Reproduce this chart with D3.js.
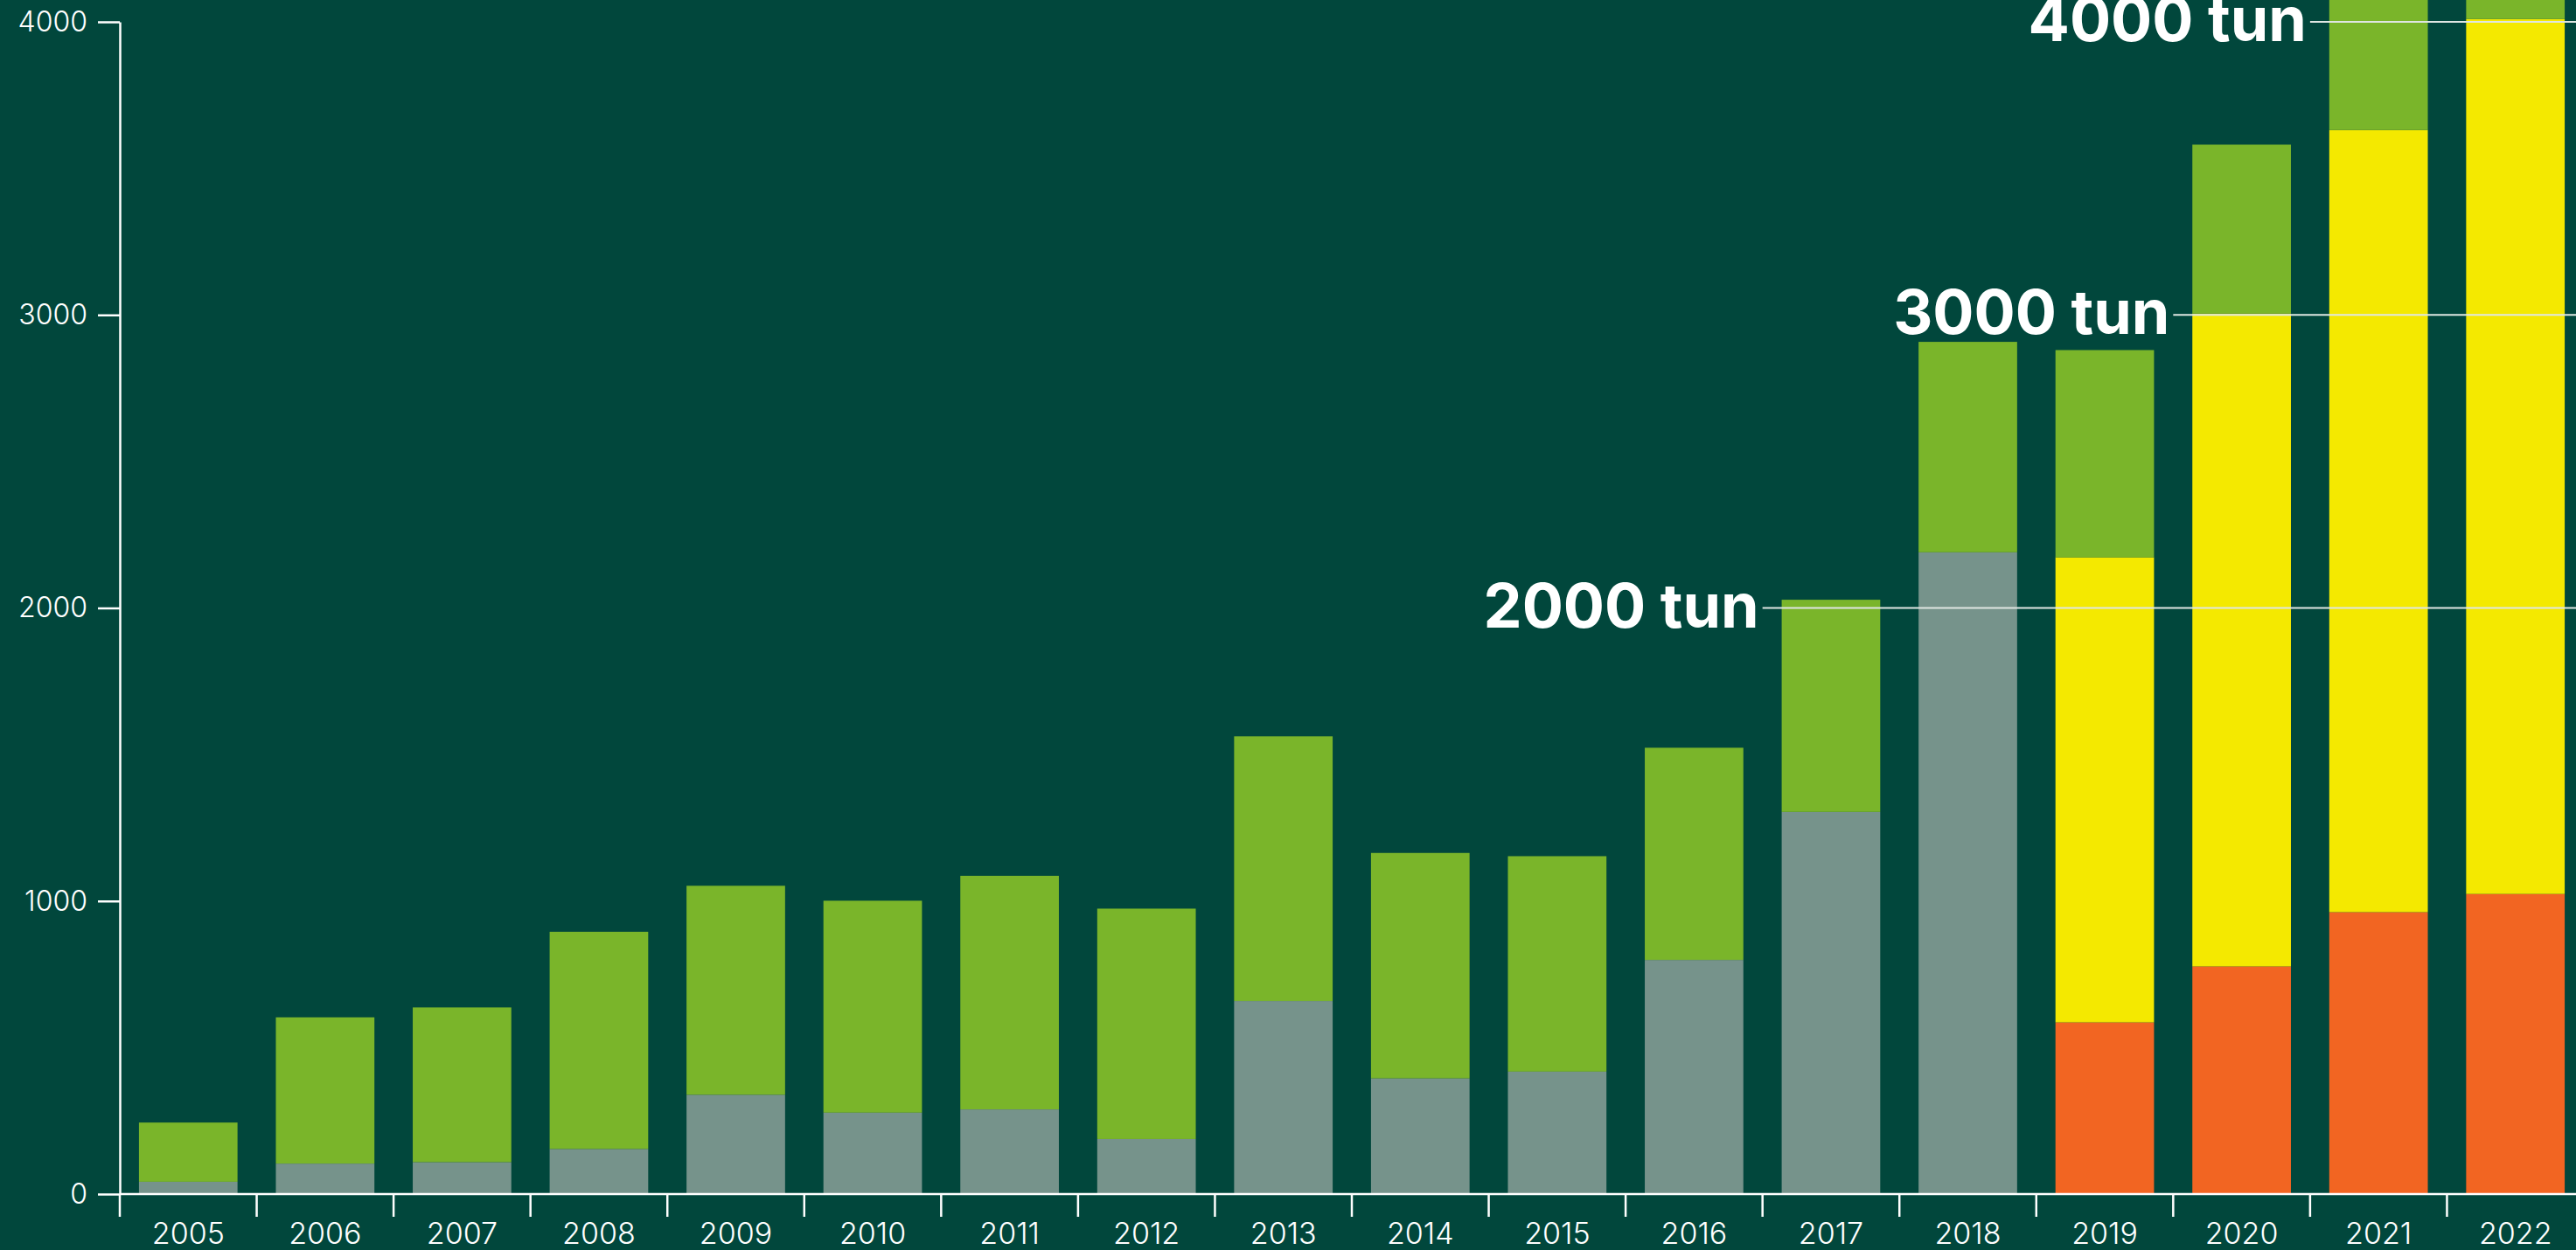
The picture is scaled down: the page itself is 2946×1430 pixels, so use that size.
<!DOCTYPE html>
<html>
<head>
<meta charset="utf-8">
<script src="https://cdn.jsdelivr.net/npm/d3@7"></script>
<style>
  html, body { margin: 0; padding: 0; background: #01473c; }
  svg { display: block; }
  .axis text { font-family: Inter, "Noto Sans", sans-serif; fill: #ffffff; }
  .axis line, .axis path { stroke: #ffffff; stroke-width: 2.5; }
  .note { font-family: Inter, "Noto Sans", sans-serif; font-weight: 700; fill: #ffffff; }
</style>
</head>
<body>
<div id="chart"></div>
<script>
  // years on the x axis
  var years = ["2005", "2006", "2007", "2008", "2009", "2010", "2011", "2012", "2013",
    "2014", "2015", "2016", "2017", "2018", "2019", "2020", "2021", "2022"];

  // stacked segments, bottom to top (tun)
  var greyVals   = [42, 104, 109, 154, 339, 278, 289, 188, 659, 395, 418, 799, 1304, 2190, 0, 0, 0, 0];
  var orangeVals = [0, 0, 0, 0, 0, 0, 0, 0, 0, 0, 0, 0, 0, 0, 586, 777, 962, 1024];
  var yellowVals = [0, 0, 0, 0, 0, 0, 0, 0, 0, 0, 0, 0, 0, 0, 1587, 2228, 2669, 2986];
  var greenVals  = [202, 499, 528, 741, 713, 723, 797, 786, 903, 769, 735, 724, 724, 718, 707, 576, 700, 700];

  var yTicks = [0, 1000, 2000, 3000, 4000];

  // reference lines: value, label, year where the line starts
  var notes = [
    { v: 2000, label: "2000 tun", from: "2017" },
    { v: 3000, label: "3000 tun", from: "2020" },
    { v: 4000, label: "4000 tun", from: "2021" }
  ];

  var keys = ["grey", "orange", "yellow", "green"];
  var colors = { grey: "#76938b", orange: "#f26522", yellow: "#f4e900", green: "#7ab52a" };

  var rows = years.map(function (y, i) {
    return { year: y, grey: greyVals[i], orange: orangeVals[i], yellow: yellowVals[i], green: greenVals[i] };
  });

  var width = 2946;
  var height = 1430;
  var plotLeft = 137;
  var plotRight = 2955;
  var plotTop = 25;
  var plotBottom = 1366;

  var svg = d3.select("#chart").append("svg")
    .attr("width", width)
    .attr("height", height);

  svg.append("rect").attr("width", width).attr("height", height).attr("fill", "#01473c");

  var x = d3.scaleBand()
    .domain(years)
    .range([plotLeft, plotRight])
    .paddingInner(0.28)
    .paddingOuter(0.14);

  var y = d3.scaleLinear()
    .domain([0, 4000])
    .range([plotBottom, plotTop]);

  var series = d3.stack().keys(keys)(rows);

  svg.append("g")
    .selectAll("g")
    .data(series)
    .enter()
    .append("g")
    .attr("fill", function (d) { return colors[d.key]; })
    .selectAll("rect")
    .data(function (d) { return d; })
    .enter()
    .append("rect")
    .attr("x", function (d) { return x(d.data.year); })
    .attr("y", function (d) { return y(d[1]); })
    .attr("width", x.bandwidth())
    .attr("height", function (d) { return Math.max(0, y(d[0]) - y(d[1])); });

  // y axis
  var yAxis = d3.axisLeft(y)
    .tickValues(yTicks)
    .tickFormat(d3.format("d"))
    .tickSize(25)
    .tickSizeOuter(0)
    .tickPadding(12);

  var gy = svg.append("g")
    .attr("class", "axis")
    .attr("transform", "translate(" + plotLeft + ",0)")
    .call(yAxis);
  gy.selectAll("text").style("font-size", "32px").style("font-weight", 300);

  // x axis: labels centred in bands, ticks on band edges
  var step = x.step();
  var xAxis = d3.axisBottom(x)
    .tickSize(0)
    .tickSizeOuter(0)
    .tickPadding(33);

  var gx = svg.append("g")
    .attr("class", "axis")
    .attr("transform", "translate(0," + plotBottom + ")")
    .call(xAxis);
  gx.select(".domain").attr("d", "M" + plotLeft + ",0H" + width);
  gx.selectAll("text").style("font-size", "34px").style("font-weight", 300);

  gx.selectAll(".edge")
    .data(years)
    .enter()
    .append("line")
    .attr("class", "edge")
    .attr("x1", function (d) { return x(d) - step * x.paddingInner() / 2; })
    .attr("x2", function (d) { return x(d) - step * x.paddingInner() / 2; })
    .attr("y1", 0)
    .attr("y2", 26);

  // reference lines with labels
  var ng = svg.append("g");
  notes.forEach(function (n) {
    var x0 = x(n.from) - step * x.paddingInner() / 2;
    ng.append("line")
      .attr("x1", x0)
      .attr("x2", width)
      .attr("y1", y(n.v))
      .attr("y2", y(n.v))
      .attr("stroke", "#dfe6e2")
      .attr("stroke-width", 2);
    ng.append("text")
      .attr("class", "note")
      .attr("x", x0 - 4)
      .attr("y", y(n.v) + 22)
      .attr("text-anchor", "end")
      .style("font-size", "70px")
      .text(n.label);
  });
</script>
</body>
</html>
